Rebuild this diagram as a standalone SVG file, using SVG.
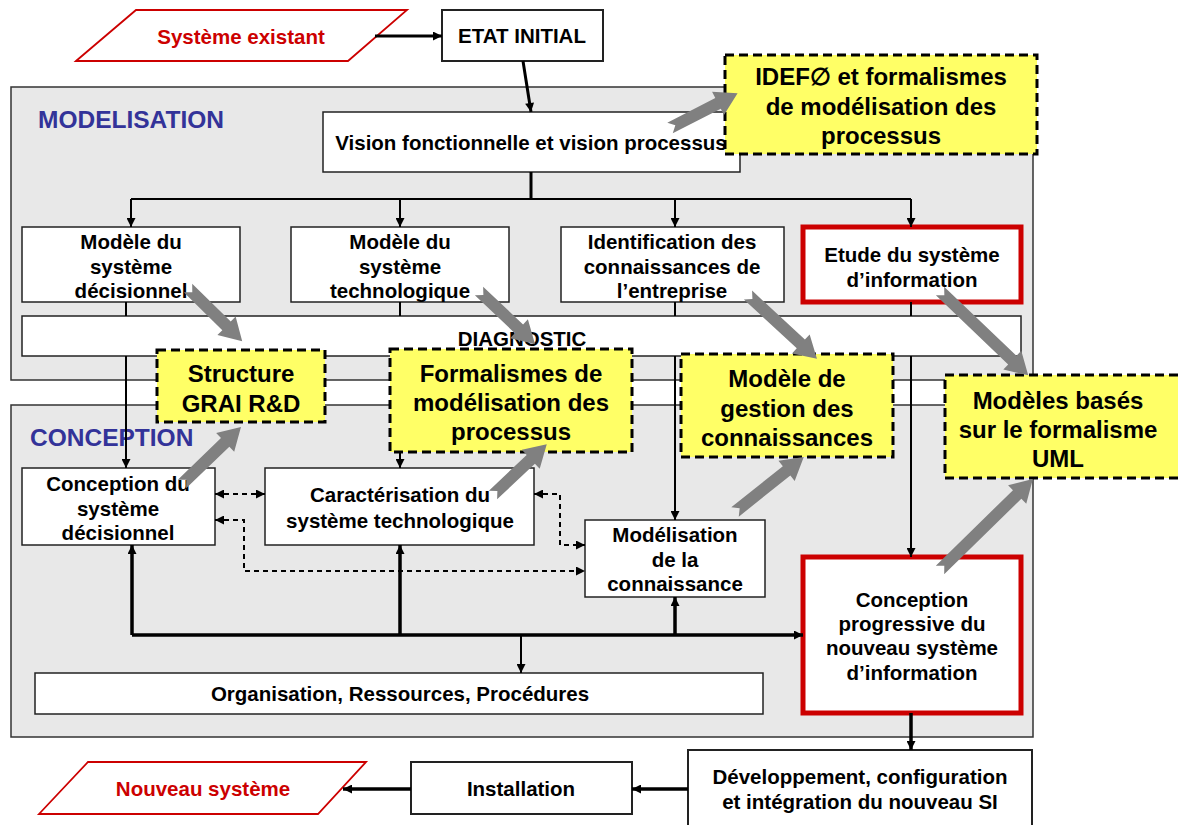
<svg xmlns="http://www.w3.org/2000/svg" width="1178" height="825" viewBox="0 0 1178 825">
<style>
.panel{fill:#e8e8e8;stroke:#333;stroke-width:1.5}
.box{fill:#fff;stroke:#222;stroke-width:1.5}
.red{fill:#fff;stroke:#cc0000;stroke-width:5}
.yel{fill:#ffff66;stroke:#000;stroke-width:3;stroke-dasharray:9 5}
.para{fill:#fff;stroke:#cc0000;stroke-width:1.8}
.t{font-family:"Liberation Sans",Arial,sans-serif;font-weight:bold;font-size:20.5px;text-anchor:middle;fill:#000}
.ty{font-size:24px}
.tr{fill:#cc0000}
.tb{fill:#333399;font-size:24.5px;text-anchor:start}
.ln{stroke:#000;stroke-width:2;fill:none}
.bus{stroke-width:3.5}
.thk{stroke-width:3}
.dash{stroke-dasharray:5 4}
.ga{fill:#808080}
</style>
<defs>
<marker id="ah" viewBox="0 0 10 10" refX="10" refY="5" markerWidth="10" markerHeight="9" markerUnits="userSpaceOnUse" orient="auto-start-reverse"><path d="M0,0 L10,5 L0,10 z" fill="#000"/></marker>
</defs>

<g id="panel-modelisation"><rect class="panel" x="11" y="87" width="1022" height="293"/><text class="t tb" x="38" y="128">MODELISATION</text></g>
<g id="panel-conception"><rect class="panel" x="11" y="405" width="1022" height="332"/><text class="t tb" x="30" y="446">CONCEPTION</text></g>

<g id="systeme-existant"><polygon class="para" points="76,61 136,10 407,10 348,61"/><text class="t tr" x="241" y="44">Système existant</text></g>
<g id="etat-initial"><rect class="box" x="442" y="10" width="161" height="51" style="stroke-width:2"/><text class="t" x="522" y="43">ETAT INITIAL</text></g>
<g id="vision"><rect class="box" x="323" y="112" width="417" height="60"/><text class="t" x="531" y="150">Vision fonctionnelle et vision processus</text></g>

<g id="modele-decisionnel"><rect class="box" x="22" y="227" width="218" height="75"/><text class="t" x="131" y="249">Modèle du</text><text class="t" x="131" y="274">système</text><text class="t" x="131" y="298">décisionnel</text></g>
<g id="modele-technologique"><rect class="box" x="291" y="227" width="218" height="75"/><text class="t" x="400" y="249">Modèle du</text><text class="t" x="400" y="274">système</text><text class="t" x="400" y="298">technologique</text></g>
<g id="identification"><rect class="box" x="561" y="227" width="223" height="75"/><text class="t" x="672" y="249">Identification des</text><text class="t" x="672" y="274">connaissances de</text><text class="t" x="672" y="298">l’entreprise</text></g>
<g id="etude-si"><rect class="red" x="803" y="227" width="218" height="75"/><text class="t" x="912" y="262">Etude du système</text><text class="t" x="912" y="287">d’information</text></g>
<g id="diagnostic"><rect class="box" x="22" y="316" width="999" height="40"/><text class="t" x="522" y="346">DIAGNOSTIC</text></g>

<g id="conception-decisionnel"><rect class="box" x="22" y="468" width="193" height="77"/><text class="t" x="118" y="491">Conception du</text><text class="t" x="118" y="516">système</text><text class="t" x="118" y="540">décisionnel</text></g>
<g id="caracterisation"><rect class="box" x="265" y="468" width="269" height="77"/><text class="t" x="400" y="502">Caractérisation du</text><text class="t" x="400" y="528">système technologique</text></g>
<g id="modelisation-connaissance"><rect class="box" x="585" y="520" width="180" height="77"/><text class="t" x="675" y="542">Modélisation</text><text class="t" x="675" y="567">de la</text><text class="t" x="675" y="591">connaissance</text></g>
<g id="conception-progressive"><rect class="red" x="803" y="557" width="218" height="156"/><text class="t" x="912" y="607">Conception</text><text class="t" x="912" y="631">progressive du</text><text class="t" x="912" y="655">nouveau système</text><text class="t" x="912" y="680">d’information</text></g>
<g id="organisation"><rect class="box" x="35" y="673" width="728" height="41"/><text class="t" x="400" y="701">Organisation, Ressources, Procédures</text></g>

<g id="developpement"><rect class="box" x="688" y="750" width="344" height="85" style="stroke-width:2"/><text class="t" x="860" y="784">Développement, configuration</text><text class="t" x="860" y="809">et intégration du nouveau SI</text></g>
<g id="installation"><rect class="box" x="411" y="762" width="221" height="52" style="stroke-width:2"/><text class="t" x="521" y="796">Installation</text></g>
<g id="nouveau-systeme"><polygon class="para" points="39,814 88,762 366,762 318,814"/><text class="t tr" x="203" y="796">Nouveau système</text></g>

<g id="connectors">
<line class="ln thk" x1="375" y1="36" x2="442" y2="36" marker-end="url(#ah)"/>
<line class="ln thk" x1="523" y1="61" x2="531" y2="112" marker-end="url(#ah)"/>
<polyline class="ln thk" points="531,172 531,199"/>
<polyline class="ln" points="131,199 911,199"/>
<line class="ln" x1="131" y1="199" x2="131" y2="227" marker-end="url(#ah)"/>
<line class="ln" x1="400" y1="199" x2="400" y2="227" marker-end="url(#ah)"/>
<line class="ln" x1="675" y1="199" x2="675" y2="227" marker-end="url(#ah)"/>
<line class="ln" x1="911" y1="199" x2="911" y2="227" marker-end="url(#ah)"/>
<line class="ln" x1="126" y1="302" x2="126" y2="316"/>
<line class="ln" x1="400" y1="302" x2="400" y2="316"/>
<line class="ln" x1="675" y1="302" x2="675" y2="316"/>
<line class="ln" x1="911" y1="302" x2="911" y2="316"/>
<line class="ln" x1="126" y1="356" x2="126" y2="468" marker-end="url(#ah)"/>
<line class="ln" x1="400" y1="356" x2="400" y2="468" marker-end="url(#ah)"/>
<line class="ln" x1="675" y1="356" x2="675" y2="520" marker-end="url(#ah)"/>
<line class="ln" x1="911" y1="356" x2="911" y2="557" marker-end="url(#ah)"/>
<line class="ln dash" x1="215" y1="494" x2="265" y2="494" marker-start="url(#ah)" marker-end="url(#ah)"/>
<polyline class="ln dash" points="215,520 244,520 244,571 585,571" marker-start="url(#ah)" marker-end="url(#ah)"/>
<polyline class="ln dash" points="534,494 560,494 560,545 585,545" marker-start="url(#ah)" marker-end="url(#ah)"/>
<line class="ln bus" x1="132" y1="635" x2="803" y2="635" marker-end="url(#ah)"/>
<line class="ln bus" x1="132" y1="635" x2="132" y2="545" marker-end="url(#ah)"/>
<line class="ln bus" x1="400" y1="635" x2="400" y2="545" marker-end="url(#ah)"/>
<line class="ln bus" x1="675" y1="635" x2="675" y2="597" marker-end="url(#ah)"/>
<line class="ln" x1="521" y1="635" x2="521" y2="673" marker-end="url(#ah)"/>
<line class="ln bus" x1="911" y1="713" x2="911" y2="750" marker-end="url(#ah)"/>
<line class="ln bus" x1="688" y1="789" x2="632" y2="789" marker-end="url(#ah)"/>
<line class="ln bus" x1="411" y1="789" x2="343" y2="789" marker-end="url(#ah)"/>
</g>

<g id="idef"><rect class="yel" x="725" y="55" width="312" height="99"/><text class="t ty" x="881" y="85">IDEF∅ et formalismes</text><text class="t ty" x="881" y="115">de modélisation des</text><text class="t ty" x="881" y="144">processus</text></g>
<g id="structure-grai"><rect class="yel" x="157" y="350" width="168" height="72"/><text class="t ty" x="241" y="382">Structure</text><text class="t ty" x="241" y="412">GRAI R&amp;D</text></g>
<g id="formalismes"><rect class="yel" x="390" y="349" width="242" height="103"/><text class="t ty" x="511" y="382">Formalismes de</text><text class="t ty" x="511" y="411">modélisation des</text><text class="t ty" x="511" y="440">processus</text></g>
<g id="modele-gestion"><rect class="yel" x="681" y="354" width="212" height="103"/><text class="t ty" x="787" y="387">Modèle de</text><text class="t ty" x="787" y="417">gestion des</text><text class="t ty" x="787" y="446">connaissances</text></g>
<g id="modeles-uml"><rect class="yel" x="945" y="375" width="240" height="103"/><text class="t ty" x="1058" y="409">Modèles basés</text><text class="t ty" x="1058" y="438">sur le formalisme</text><text class="t ty" x="1058" y="467">UML</text></g>

<g id="block-arrows" class="ga">
<path transform="translate(670,128) rotate(-27.2)" d="M0,-6 L54,-6 L54,-13 L76,0 L54,13 L54,6 L0,6 L6,0 Z"/>
<path transform="translate(188,288) rotate(44.5)" d="M0,-6 L54,-6 L54,-13 L76,0 L54,13 L54,6 L0,6 L6,0 Z"/>
<path transform="translate(479,291) rotate(43.4)" d="M0,-6 L55,-6 L55,-13 L77,0 L55,13 L55,6 L0,6 L6,0 Z"/>
<path transform="translate(748,295) rotate(42.8)" d="M0,-6 L72,-6 L72,-13 L94,0 L72,13 L72,6 L0,6 L6,0 Z"/>
<path transform="translate(940,291) rotate(43.7)" d="M0,-6 L100,-6 L100,-13 L122,0 L100,13 L100,6 L0,6 L6,0 Z"/>
<path transform="translate(182,484) rotate(-44)" d="M0,-6 L60,-6 L60,-13 L82,0 L60,13 L60,6 L0,6 L6,0 Z"/>
<path transform="translate(493,495) rotate(-43.4)" d="M0,-6 L52,-6 L52,-13 L74,0 L52,13 L52,6 L0,6 L6,0 Z"/>
<path transform="translate(735,512) rotate(-38.6)" d="M0,-6 L66,-6 L66,-13 L88,0 L66,13 L66,6 L0,6 L6,0 Z"/>
<path transform="translate(940,570) rotate(-44.4)" d="M0,-6 L108,-6 L108,-13 L130,0 L108,13 L108,6 L0,6 L6,0 Z"/>
</g>
</svg>
